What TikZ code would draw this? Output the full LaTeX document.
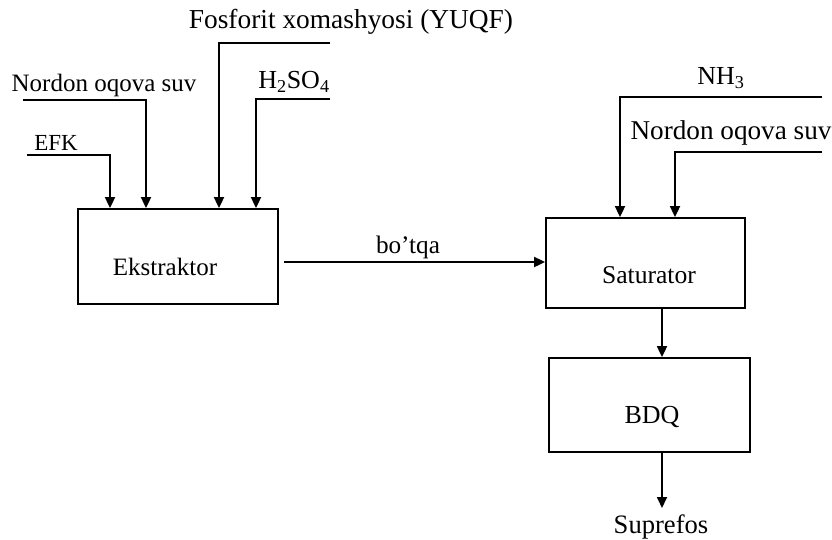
\documentclass[tikz,border=0pt]{standalone}
\usepackage{fontspec}
\setmainfont{Liberation Serif}
\usetikzlibrary{arrows.meta}
\newcommand{\fsz}[1]{\fontsize{#1}{#1}\selectfont}
\begin{document}
\begin{tikzpicture}[x=1pt,y=-1pt,
  box/.style={draw, line width=1.8pt, inner sep=0pt},
  lbl/.style={inner sep=0pt, font=\fsz{26}},
  arr/.style={line width=1.8pt, -{Triangle[width=10pt,length=11pt]}}]
\useasboundingbox (0,0) rectangle (832,539);
% boxes
\node[box, minimum width=200pt, minimum height=95pt] (ek) at (178,256.5) {};
\node[box, minimum width=199pt, minimum height=90pt] (sat) at (645.5,263) {};
\node[box, minimum width=201pt, minimum height=94pt] (bdq) at (649.5,405) {};
% box texts
\node[lbl, font=\fsz{25}] (ekt) at (165,267) {Ekstraktor};
\node[lbl, font=\fsz{25.6}] (satt) at (649,275) {Saturator};
\node[lbl] (bdqt) at (652,417) {BDQ};
% labels
\node[lbl, font=\fsz{27.4}] (fos) at (351,22) {Fosforit xomashyosi (YUQF)};
\node[lbl, font=\fsz{25}] (nl) at (104,85) {Nordon oqova suv};
\node[lbl] (hs) at (294,82) {H\textsubscript{2}SO\textsubscript{4}};
\node[lbl, font=\fsz{23}] (efk) at (56,143) {EFK};
\node[lbl] (nh) at (721,78) {NH\textsubscript{3}};
\node[lbl, font=\fsz{27.2}] (nr) at (731,133) {Nordon oqova suv};
\node[lbl, font=\fsz{25.2}] (bt) at (408,247) {bo'tqa};
\node[lbl, font=\fsz{26.6}] (sup) at (661,527) {Suprefos};
% inputs to Ekstraktor
\coordinate (efk0) at (27,155);  \coordinate (efk1) at (110,155);
\coordinate (nl0) at (23,100);   \coordinate (nl1) at (146,100);
\coordinate (fos0) at (330,43);  \coordinate (fos1) at (219,43);
\coordinate (hs0) at (330,99);   \coordinate (hs1) at (256,99);
\draw[arr] (efk0) -- (efk1) -- (efk1 |- ek.north);
\draw[arr] (nl0) -- (nl1) -- (nl1 |- ek.north);
\draw[arr] (fos0) -- (fos1) -- (fos1 |- ek.north);
\draw[arr] (hs0) -- (hs1) -- (hs1 |- ek.north);
% inputs to Saturator
\coordinate (nh0) at (822,97);   \coordinate (nh1) at (620,97);
\coordinate (nr0) at (822,152);  \coordinate (nr1) at (675,152);
\draw[arr] (nh0) -- (nh1) -- (nh1 |- sat.north);
\draw[arr] (nr0) -- (nr1) -- (nr1 |- sat.north);
% bo'tqa
\coordinate (bt0) at (284,262);
\draw[arr] (bt0) -- (bt0 -| sat.west);
% Saturator -> BDQ -> Suprefos
\coordinate (sb) at (662,0);
\coordinate (sup0) at (662,508);
\draw[arr] (sat.south -| sb) -- (bdq.north -| sb);
\draw[arr] (bdq.south -| sb) -- (sup0);
\end{tikzpicture}
\end{document}
